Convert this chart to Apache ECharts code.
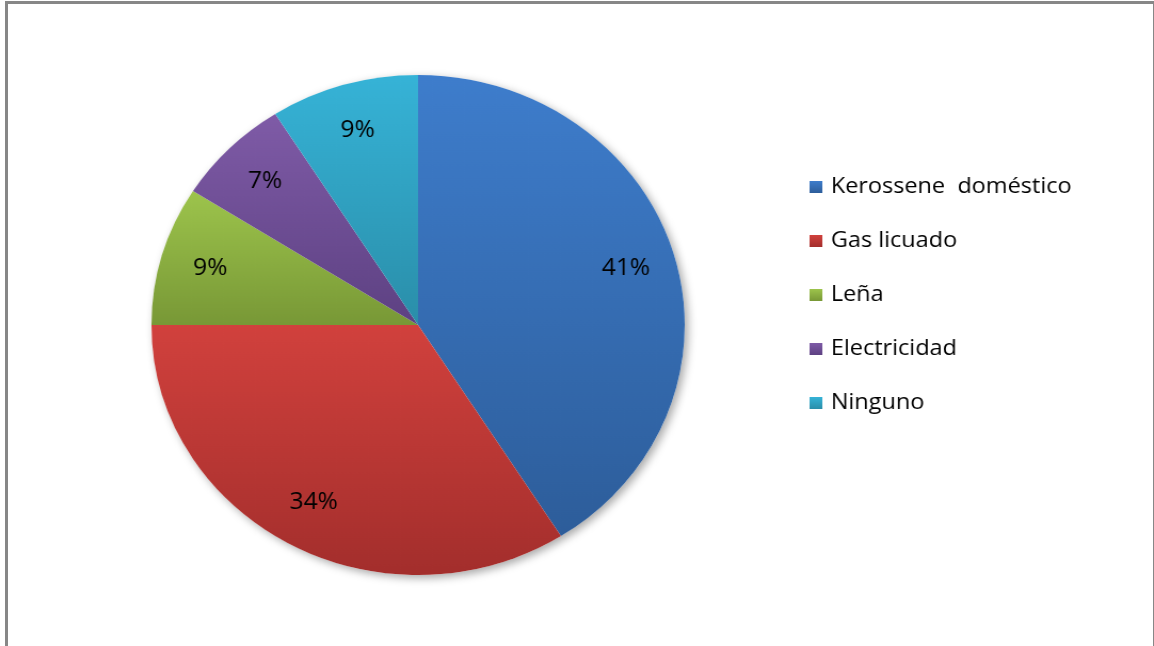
<!DOCTYPE html>
<html>
<head>
<meta charset="utf-8">
<script src="https://cdn.jsdelivr.net/npm/echarts@6/dist/echarts.min.js"></script>
<style>
  html, body { margin: 0; padding: 0; background: #fff; overflow: hidden; }
  #wrap { position: relative; width: 1154px; height: 646px; overflow: hidden; }
  /* the chart is drawn narrower and widened horizontally */
  #chart { position: absolute; left: 0; top: 0; width: 1082px; height: 646px;
           transform: scaleX(1.06654); transform-origin: 0 0; }
  #frame { position: absolute; left: 5px; top: 1px; width: 1145px; height: 700px;
           border-left: 3px solid #878787; border-top: 3px solid #878787;
           border-right: 2px solid #878787; pointer-events: none; }
</style>
</head>
<body>
<div id="wrap">
  <div id="chart"></div>
  <div id="frame"></div>
</div>
<script>
// Fuel used for heating, share of households (%)
const categories = ['Kerossene  doméstico', 'Gas licuado', 'Leña', 'Electricidad', 'Ninguno'];
const shares = [41, 34, 9, 7, 9];
// top / bottom colours of each slice's vertical gradient
const topColors = ['#3e7dcc', '#d1413d', '#9dc44c', '#7f5ba7', '#36b3d7'];
const bottomColors = ['#2d5d9a', '#a32e2c', '#789836', '#5d4182', '#2a8ea9'];

function grad(i) {
  return new echarts.graphic.LinearGradient(0, 0, 0, 1, [
    { offset: 0, color: topColors[i] },
    { offset: 1, color: bottomColors[i] }
  ]);
}

const center = [392, 325];
const R = 250;

const chart = echarts.init(document.getElementById('chart'), null, { renderer: 'canvas' });
chart.setOption({
  animation: false,
  backgroundColor: 'transparent',
  legend: {
    orient: 'vertical',
    left: 754,
    top: 170,
    itemWidth: 12,
    itemHeight: 12,
    itemGap: 30,
    icon: 'rect',
    data: categories,
    textStyle: { fontFamily: 'Open Sans', fontSize: 22, color: '#000', lineHeight: 24, padding: [0, 0, 0, 3] }
  },
  series: [
    {
      // soft shadow under the whole pie
      type: 'pie', silent: true, center: center, radius: R,
      label: { show: false }, labelLine: { show: false },
      itemStyle: { color: '#ffffff', shadowBlur: 8, shadowOffsetX: 3, shadowOffsetY: 3,
                   shadowColor: 'rgba(0,0,0,0.35)' },
      data: [{ name: 'sombra', value: 1 }]
    },
    {
      type: 'pie', silent: true, center: center, radius: R,
      startAngle: 90, clockwise: true,
      label: { show: false }, labelLine: { show: false },
      itemStyle: { borderWidth: 0 },
      data: categories.map((n, i) => ({ name: n, value: shares[i], itemStyle: { color: grad(i) } }))
    },
    {
      // transparent ring that places the percentage labels near the rim
      type: 'pie', silent: true, center: center, radius: [150, R],
      startAngle: 90, clockwise: true,
      itemStyle: { color: 'rgba(0,0,0,0)' },
      label: { show: true, position: 'inside', formatter: '{c}%',
               fontFamily: 'Open Sans', fontSize: 23, color: '#000' },
      labelLine: { show: false },
      data: categories.map((n, i) => ({ name: n, value: shares[i] }))
    }
  ]
});
</script>
</body>
</html>
